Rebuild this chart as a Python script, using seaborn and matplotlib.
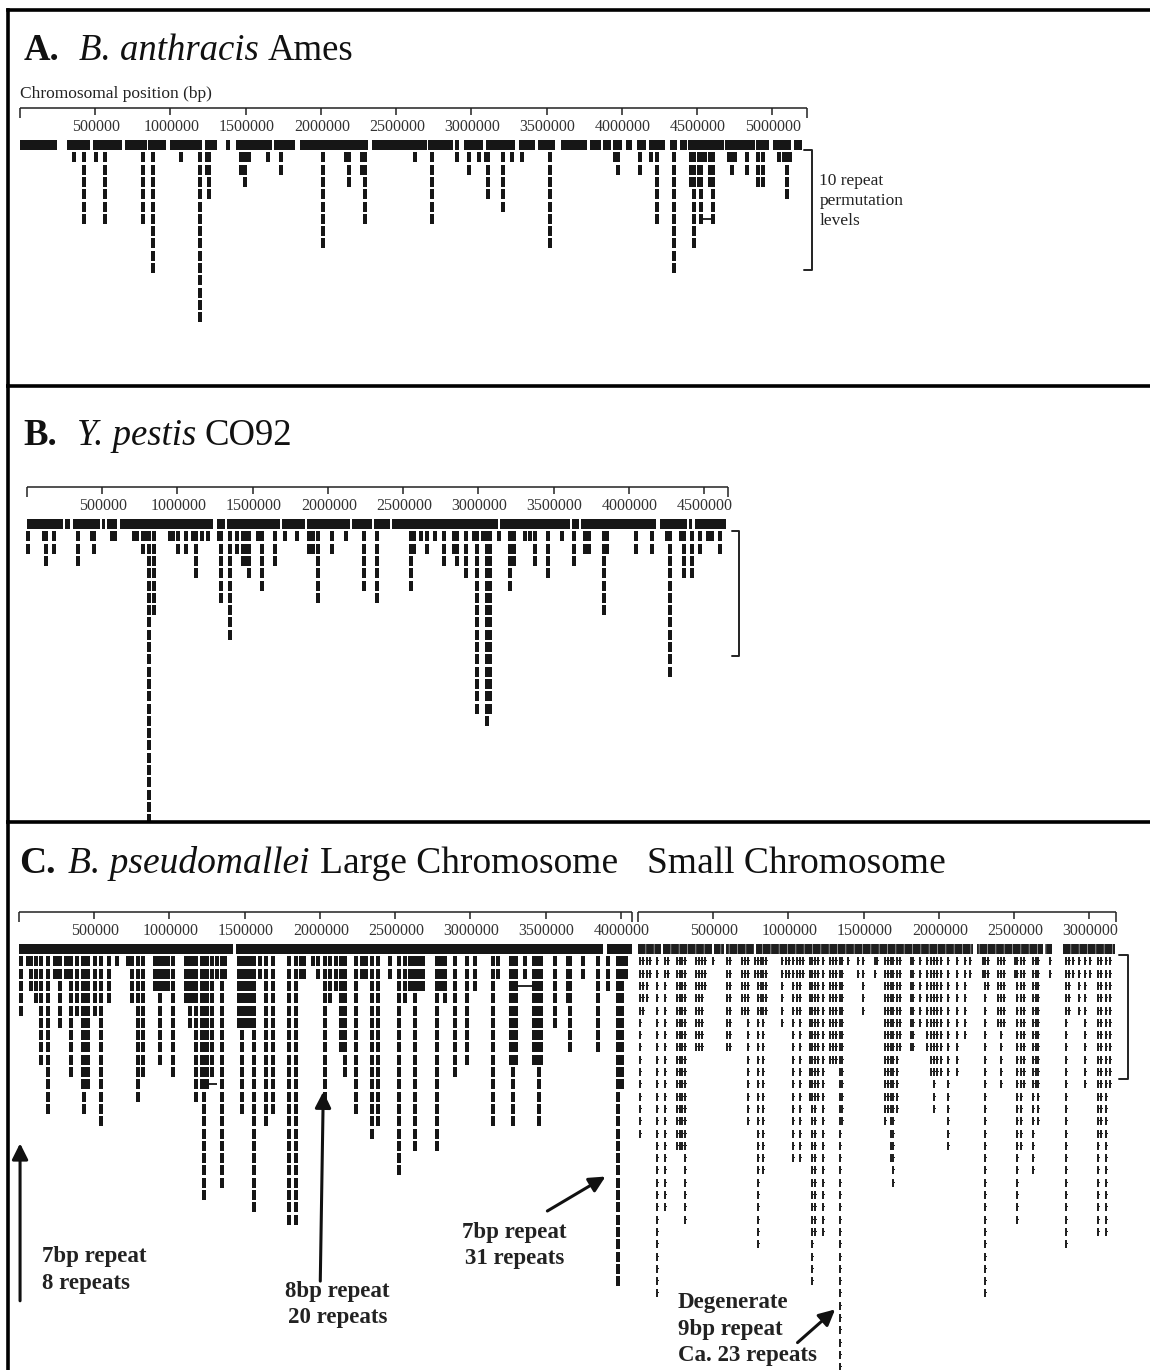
import numpy as np
import pandas as pd
import matplotlib
matplotlib.use("Agg")
import matplotlib.pyplot as plt
import matplotlib.transforms as mtransforms
from matplotlib.path import Path
import seaborn as sns

sns.set_style("white")
plt.rcParams['font.family'] = ['Liberation Serif', 'DejaVu Serif']
plt.rcParams['hatch.linewidth'] = 0.5

# ---- data: positions in kb, depth = number of permutation levels below the top row ----

# A. B. anthracis Ames
A_LENGTH = 5227
A_TICKS = [500, 1000, 1500, 2000, 2500, 3000, 3500, 4000, 4500, 5000]
A_TOP_START = [0, 312, 485, 697, 850, 996, 1228, 1368, 1434, 1687, 1859, 2337, 2709, 2888,
               2948, 3094, 3313, 3440, 3592, 3785, 3871, 3938, 4024, 4097, 4183, 4316, 4389,
               4436, 4688, 4894, 5007, 5146]
A_TOP_END = [246, 465, 677, 843, 969, 1208, 1308, 1394, 1673, 1826, 2311, 2702, 2875, 2915,
             3074, 3287, 3420, 3552, 3765, 3864, 3924, 3997, 4070, 4163, 4289, 4369, 4429,
             4681, 4887, 4980, 5126, 5199]
A_POS = [359, 425, 505, 564, 817, 883, 1069, 1195, 1242, 1255, 1467, 1494, 1521, 1647, 1733,
         2012, 2165, 2185, 2271, 2291, 2623, 2736, 2902, 2981, 3048, 3094, 3108, 3207, 3267,
         3333, 3519, 3957, 3977, 4117, 4196, 4236, 4343, 4462, 4482, 4509, 4528, 4555, 4582,
         4608, 4708, 4728, 4748, 4834, 4907, 4940, 5046, 5080, 5100, 5119]
A_DEPTH = [1, 6, 1, 6, 6, 10, 1, 14, 2, 4, 2, 3, 1, 1, 2,
           8, 1, 3, 2, 6, 1, 6, 1, 2, 1, 1, 4, 5, 1,
           1, 8, 1, 2, 2, 1, 6, 10, 3, 8, 3, 6, 1, 3,
           6, 1, 2, 1, 2, 3, 3, 1, 1, 4, 1]
A_LINKS = [(4528, 4608, 6)]

# B. Y. pestis CO92
B_LENGTH = 4660
B_TICKS = [500, 1000, 1500, 2000, 2500, 3000, 3500, 4000, 4500]
B_TOP_START = [0, 252, 305, 498, 531, 618, 1262, 1328, 1693, 1859, 2158, 2304, 2424, 3141,
               3619, 3679, 4203, 4402, 4436]
B_TOP_END = [239, 286, 485, 518, 598, 1235, 1315, 1680, 1846, 2145, 2291, 2410, 3127, 3606,
             3666, 4177, 4389, 4422, 4648]
B_POS = [7, 113, 126, 179, 339, 432, 445, 564, 584, 710, 730, 770, 797, 810, 843, 950, 969,
         1003, 1056, 1102, 1122, 1162, 1202, 1275, 1288, 1348, 1394, 1434, 1448, 1474, 1534,
         1560, 1647, 1713, 1793, 1872, 1899, 1932, 2025, 2118, 2238, 2324, 2550, 2570, 2616,
         2656, 2709, 2769, 2835, 2855, 2915, 2968, 2988, 3028, 3054, 3074, 3134, 3207, 3234,
         3307, 3340, 3373, 3459, 3552, 3632, 3705, 3732, 3831, 3851, 4044, 4150, 4256, 4270,
         4343, 4369, 4416, 4475, 4522, 4555, 4602]
B_DEPTH = [2, 1, 3, 2, 3, 1, 2, 1, 1, 1, 1, 2, 1, 24, 7, 1, 1,
           2, 2, 1, 4, 1, 1, 1, 6, 9, 2, 3, 3, 4, 1,
           5, 3, 1, 1, 2, 2, 6, 2, 1, 5, 6, 5, 2, 1,
           2, 1, 3, 2, 3, 4, 1, 15, 1, 16, 15, 1, 5, 3,
           1, 1, 3, 4, 1, 3, 2, 2, 7, 2, 2, 2, 1, 12,
           1, 4, 4, 2, 1, 1, 2]

# C. B. pseudomallei, large chromosome
CL_LENGTH = 4076
CL_TICKS = [500, 1000, 1500, 2000, 2500, 3000, 3500, 4000]
CL_TOP_START = [0, 1443, 3910]
CL_TOP_END = [1423, 3884, 4076]
CL_POS = [13, 60, 80, 113, 146, 193, 239, 253, 273, 313, 326, 346, 386, 426, 432, 446, 459,
          505, 545, 599, 652, 725, 751, 791, 825, 904, 924, 938, 964, 991, 1024, 1111, 1137,
          1157, 1177, 1217, 1230, 1250, 1283, 1317, 1350, 1370, 1463, 1483, 1510, 1536, 1563,
          1603, 1643, 1689, 1796, 1842, 1875, 1895, 1955, 1988, 2035, 2068, 2108, 2141, 2168,
          2241, 2281, 2308, 2347, 2387, 2467, 2527, 2567, 2600, 2627, 2633, 2660, 2687, 2780,
          2806, 2833, 2899, 2979, 3032, 3152, 3185, 3272, 3285, 3305, 3365, 3425, 3445, 3458,
          3471, 3564, 3651, 3664, 3751, 3850, 3917, 3983, 4010, 4036]
CL_DEPTH = [5, 1, 3, 4, 9, 13, 2, 2, 6, 2, 2, 10, 5, 11, 13, 11, 11,
            5, 14, 4, 1, 1, 4, 12, 10, 3, 3, 9, 3, 3, 10, 4, 6,
            4, 12, 11, 20, 11, 10, 2, 19, 2, 6, 13, 6, 6, 21,
            2, 14, 13, 22, 22, 2, 2, 1, 2, 12, 4, 3, 8, 10,
            13, 2, 2, 15, 14, 2, 18, 4, 3, 3, 16, 3, 3, 16,
            3, 4, 10, 9, 3, 14, 2, 9, 14, 9, 2, 9, 9, 14,
            9, 6, 4, 8, 2, 8, 3, 27, 11, 2]
CL_LINKS = [(1237, 1317, 11), (3318, 3418, 3)]

# C. B. pseudomallei, small chromosome
CS_LENGTH = 3173
CS_TICKS = [500, 1000, 1500, 2000, 2500, 3000]
CS_TOP_START = [0, 166, 505, 585, 785, 2254, 2706, 2826]
CS_TOP_END = [153, 492, 572, 771, 2227, 2693, 2753, 3172]
CS_POS = [13, 33, 60, 80, 126, 180, 200, 259, 279, 293, 313, 386, 406, 426, 446, 499, 592,
          612, 692, 712, 732, 778, 798, 818, 831, 851, 958, 984, 1004, 1031, 1057, 1077, 1097,
          1144, 1157, 1177, 1197, 1230, 1277, 1297, 1317, 1343, 1357, 1397, 1463, 1496, 1576,
          1590, 1643, 1663, 1683, 1696, 1722, 1742, 1816, 1829, 1875, 1922, 1948, 1968, 1988,
          2015, 2062, 2121, 2175, 2208, 2294, 2308, 2327, 2394, 2414, 2434, 2507, 2520, 2547,
          2567, 2627, 2647, 2660, 2740, 2846, 2866, 2893, 2933, 2973, 3006, 3059, 3079, 3112,
          3139]
CS_DEPTH = [15, 5, 4, 2, 28, 21, 2, 16, 16, 16, 22, 8, 8, 8, 3, 1, 8,
            8, 5, 5, 14, 2, 24, 5, 18, 5, 6, 2, 2, 17, 5, 17, 2,
            12, 27, 23, 12, 23, 9, 9, 9, 34, 14, 1, 2, 5, 2,
            1, 14, 13, 17, 19, 13, 8, 8, 8, 6, 8, 10, 13, 10,
            10, 16, 10, 7, 2, 2, 28, 3, 6, 11, 6, 2, 22, 16,
            11, 18, 11, 14, 2, 24, 5, 2, 5, 11, 2, 23, 15, 23,
            11]

# ---- layout (pixels of the 1150 x 1370 canvas) ----
W, H = 1150, 1370
KB_PER_PX = 6.645
ROW_PX = 12.3
SMALL_OFFSET = (638 - 19) * KB_PER_PX   # small chromosome starts right of the large one

BAR = Path([(-0.22, -0.5), (0.22, -0.5), (0.22, 0.5), (-0.22, 0.5), (-0.22, -0.5)], closed=True)
TICK = Path([(-0.07, -0.5), (0.07, -0.5), (0.07, -0.04), (0.26, -0.04), (0.26, 0.06),
             (0.07, 0.06), (0.07, 0.5), (-0.07, 0.5), (-0.07, -0.5)], closed=True)

fig = plt.figure(figsize=(W / 100, H / 100), dpi=100)
renderer = fig.canvas.get_renderer()


def dash_table(pos, depth, offset=0.0):
    rows = [(p + offset, lvl) for p, d in zip(pos, depth) for lvl in range(1, d + 1)]
    return pd.DataFrame(rows, columns=['pos', 'level'])


def draw_track(ax, starts, ends, pos, depth, offset=0.0, small=False):
    starts = np.array(starts) + offset
    widths = np.array(ends) - np.array(starts) + offset
    if small:
        ax.barh(0, widths, left=starts, height=0.8, color='#1e1e1e', edgecolor='#bbbbbb',
                hatch='||', linewidth=0)
        sns.scatterplot(data=dash_table(pos, depth, offset), x='pos', y='level', marker=TICK,
                        s=40, color='#222222', linewidth=0, legend=False, ax=ax)
    else:
        ax.barh(0, widths, left=starts, height=0.85, color='#161616', linewidth=0)
        sns.scatterplot(data=dash_table(pos, depth, offset), x='pos', y='level', marker=BAR,
                        s=44, color='#161616', linewidth=0, legend=False, ax=ax)


def draw_ruler(ax, length, ticks, offset=0.0):
    ax.hlines(-3.0, offset, offset + length, color='#222', lw=1.1)
    ax.vlines([offset, offset + length], -3.0, -2.2, color='#222', lw=1.1)
    ax.vlines([offset + t for t in ticks], -3.0, -2.45, color='#222', lw=1.1)
    for t in ticks:
        ax.text(offset + t + 6, -1.5, f"{t * 1000}", ha='center', va='center',
                fontsize=11.5, color='#333')


def rich_title(ax, x, y, parts, size):
    # parts: (text, weight, style, gap in px after the run)
    dx = 0.0
    for s, weight, style, gap in parts:
        tr = mtransforms.offset_copy(ax.transData, fig=fig, x=dx, y=0, units='dots')
        t = ax.text(x, y, s, transform=tr, ha='left', va='baseline', fontsize=size,
                    fontweight=weight, fontstyle=style, color='#111')
        dx += t.get_window_extent(renderer).width + gap


def finish(ax, top, bottom, x0, row0):
    ax.set_xlim((8 - x0) * KB_PER_PX, (W - x0) * KB_PER_PX)
    ax.set_ylim((bottom - row0) / ROW_PX, (top - row0) / ROW_PX)
    ax.set(xlabel='', ylabel='', xticks=[], yticks=[])
    sns.despine(ax=ax, top=False, left=False, right=True, bottom=True)
    for side in ['top', 'left']:
        ax.spines[side].set_linewidth(2.6)
        ax.spines[side].set_color('black')


def bracket(ax, x, cap, y0, y1):
    ax.plot([x - cap, x, x, x - cap], [y0, y0, y1, y1], color='#222', lw=1.4)


# ---------- panel A ----------
axA = fig.add_axes([8 / W, 1 - 386 / H, 1 - 8 / W, 376 / H])
draw_track(axA, A_TOP_START, A_TOP_END, A_POS, A_DEPTH)
for x1, x2, lvl in A_LINKS:
    axA.hlines(lvl, x1, x2, color='#161616', lw=1.3)
draw_ruler(axA, A_LENGTH, A_TICKS)
axA.text(0, -4.15, "Chromosomal position (bp)", ha='left', va='center', fontsize=12.5, color='#222')
bracket(axA, 5266, 55, 0.4, 10.2)
axA.text(5312, 4.55, "10 repeat\npermutation\nlevels", ha='left', va='center', fontsize=12.5,
         linespacing=1.3, color='#222')
finish(axA, 10, 386, 20, 145)
rich_title(axA, 25, -6.9, [("A.", 'bold', 'normal', 19), ("B. anthracis", 'normal', 'italic', 9),
                           ("Ames", 'normal', 'normal', 0)], 26.5)

# ---------- panel B ----------
axB = fig.add_axes([8 / W, 1 - 822 / H, 1 - 8 / W, 436 / H])
draw_track(axB, B_TOP_START, B_TOP_END, B_POS, B_DEPTH)
draw_ruler(axB, B_LENGTH, B_TICKS)
bracket(axB, 4734, 50, 0.55, 10.7)
finish(axB, 386, 822, 27, 524)
rich_title(axB, -27, -6.4, [("B.", 'bold', 'normal', 20), ("Y. pestis", 'normal', 'italic', 9),
                            ("CO92", 'normal', 'normal', 0)], 26.5)

# ---------- panel C ----------
axC = fig.add_axes([8 / W, 0, 1 - 8 / W, 548 / H])
draw_track(axC, CL_TOP_START, CL_TOP_END, CL_POS, CL_DEPTH)
for x1, x2, lvl in CL_LINKS:
    axC.hlines(lvl, x1, x2, color='#161616', lw=1.3)
draw_track(axC, CS_TOP_START, CS_TOP_END, CS_POS, CS_DEPTH, offset=SMALL_OFFSET, small=True)
draw_ruler(axC, CL_LENGTH, CL_TICKS)
draw_ruler(axC, CS_LENGTH, CS_TICKS, offset=SMALL_OFFSET)
bracket(axC, SMALL_OFFSET + 3258, 60, 0.45, 10.6)

arrow = dict(arrowstyle='-|>', lw=2.2, color='#111', mutation_scale=24, shrinkA=0, shrinkB=0)
note = dict(fontsize=16.5, fontweight='bold', linespacing=1.35, color='#222')
axC.annotate('', xy=(7, 15.8), xytext=(7, 28.6), arrowprops=arrow)
axC.text(153, 26.1, "7bp repeat\n8 repeats", ha='left', va='center', **note)
axC.annotate('', xy=(2022, 11.6), xytext=(2002, 27.0), arrowprops=arrow)
axC.text(2115, 28.9, "8bp repeat\n20 repeats", ha='center', va='center', **note)
axC.annotate('', xy=(3897, 18.5), xytext=(3511, 21.3), arrowprops=arrow)
axC.text(3292, 24.1, "7bp repeat\n31 repeats", ha='center', va='center', **note)
axC.annotate('', xy=(SMALL_OFFSET + 1310, 29.3), xytext=(SMALL_OFFSET + 1060, 32.0),
             arrowprops=arrow)
axC.text(SMALL_OFFSET + 266, 30.9, "Degenerate\n9bp repeat\nCa. 23 repeats", ha='left',
         va='center', **note)
finish(axC, 822, 1370, 19, 949)
rich_title(axC, 0, -6.2, [("C.", 'bold', 'normal', 13), ("B. pseudomallei", 'normal', 'italic', 10),
                          ("Large Chromosome", 'normal', 'normal', 0)], 27)
axC.text(SMALL_OFFSET + 60, -6.2, "Small Chromosome", ha='left', va='baseline', fontsize=27,
         color='#111')

fig.savefig("out.png", dpi=100)
